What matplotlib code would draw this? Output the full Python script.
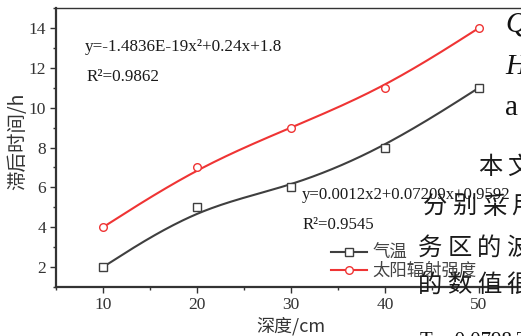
import numpy as np
import matplotlib
matplotlib.use("Agg")
import matplotlib.pyplot as plt
from matplotlib.ticker import MultipleLocator
from matplotlib.lines import Line2D

# ---- data ----
depth = [10, 20, 30, 40, 50]
air_temp = [2, 5, 6, 8, 11]
solar = [4, 7, 9, 11, 14]
series_labels = ["气温", "太阳辐射强度"]
xticks = [10, 20, 30, 40, 50]
yticks = [2, 4, 6, 8, 10, 12, 14]
eq_solar = "y=-1.4836E-19x²+0.24x+1.8"
r2_solar = "R²=0.9862"
eq_temp = "y=0.0012x2+0.07209x+0.9592"
r2_temp = "R²=0.9545"

W, H = 521, 336
SERIF = ["Liberation Serif", "DejaVu Serif"]
CJK = ["Noto Sans CJK SC", "DejaVu Sans"]


def bspline(xs, ys, n=40):
    """Uniform cubic B-spline with tripled end points (passes through ends)."""
    P = np.column_stack([xs, ys]).astype(float)
    P = np.vstack([P[0], P[0], *P, P[-1], P[-1]])
    t = np.linspace(0, 1, n)
    b0 = (1 - t) ** 3 / 6
    b1 = (3 * t**3 - 6 * t**2 + 4) / 6
    b2 = (-3 * t**3 + 3 * t**2 + 3 * t + 1) / 6
    b3 = t**3 / 6
    out = []
    for i in range(len(P) - 3):
        seg = (np.outer(b0, P[i]) + np.outer(b1, P[i + 1]) +
               np.outer(b2, P[i + 2]) + np.outer(b3, P[i + 3]))
        out.append(seg)
    c = np.vstack(out)
    return c[:, 0], c[:, 1]


fig = plt.figure(figsize=(W / 100, H / 100), dpi=100)
fig.patch.set_facecolor("white")

def fx(px):
    return px / W

def fy(py):
    return 1 - py / H

ax = fig.add_axes([fx(56), 49 / H, 470 / W, 279 / H])
ax.set_xlim(5, 55)
ax.set_ylim(1, 15)

gray = "#3f3f3f"
red = "#ef3434"

for ys, col, mk in [(air_temp, gray, "s"), (solar, red, "o")]:
    cx, cy = bspline(depth, ys)
    ax.plot(cx, cy, color=col, lw=1.5, zorder=3)
    ax.plot(depth, ys, ls="none", marker=mk, ms=5.5, mfc="white", mec=col,
            mew=1.0, zorder=4)

ax.set_xticks(xticks)
ax.set_yticks(yticks)
ax.xaxis.set_minor_locator(MultipleLocator(5))
ax.yaxis.set_minor_locator(MultipleLocator(1))
ax.tick_params(which="major", direction="out", length=4, width=1.0,
               colors="#333333", labelsize=12.5, pad=3)
ax.tick_params(which="minor", direction="out", length=2.5, width=1.0,
               colors="#333333")
for lab in ax.get_xticklabels() + ax.get_yticklabels():
    lab.set_fontfamily(SERIF)
for s in ["left", "bottom"]:
    ax.spines[s].set_linewidth(1.6)
    ax.spines[s].set_color("#333333")
ax.spines["top"].set_linewidth(1.0)
ax.spines["top"].set_color("#333333")
ax.spines["right"].set_linewidth(1.0)

# axis labels
fig.text(fx(18), fy(141), "滞后时间/h", rotation=90, ha="center", va="center",
         family=CJK, fontsize=14, color="#333333")
fig.text(fx(291), fy(326), "深度/cm", ha="center", va="center",
         family=CJK, fontsize=13, color="#333333")

# fit annotations
fig.text(fx(85), fy(47), eq_solar, ha="left", va="center", family=SERIF,
         fontsize=12.3, color="#1a1a1a")
fig.text(fx(87), fy(77), r2_solar, ha="left", va="center", family=SERIF,
         fontsize=12.3, color="#1a1a1a")
fig.text(fx(302), fy(195), eq_temp, ha="left", va="center", family=SERIF,
         fontsize=12.1, color="#1a1a1a")
fig.text(fx(303), fy(225), r2_temp, ha="left", va="center", family=SERIF,
         fontsize=12.1, color="#1a1a1a")

# legend
handles = [Line2D([], [], color=gray, lw=1.5, marker="s", ms=5.5, mfc="white", mec=gray),
           Line2D([], [], color=red, lw=1.5, marker="o", ms=5.5, mfc="white", mec=red)]
leg = fig.legend(handles, series_labels, loc="upper left",
                 bbox_to_anchor=(fx(331), fy(244)), frameon=False,
                 prop={"family": CJK, "size": 12.5}, handlelength=2.1,
                 handletextpad=0.3, labelspacing=0.0, borderpad=0,
                 borderaxespad=0)
for t in leg.get_texts():
    t.set_color("#444444")

# surrounding document text visible in the crop
doc_rows = [("本文", 478, 167), ("分别采用", 423, 207), ("务区的波", 418, 248),
            ("的数值很", 418, 285)]
for txt, x0, yc in doc_rows:
    for i, ch in enumerate(txt):
        fig.text(fx(x0 + 29.5 * i), fy(yc), ch, ha="left", va="center",
                 family=CJK, fontsize=17.5, color="#1a1a1a", zorder=10)
for ch, yc, sty in [("Q", 25, "italic"), ("H", 67, "italic"), ("a", 108, "normal")]:
    fig.text(fx(505), fy(yc), ch, ha="left", va="center", family=SERIF,
             fontsize=21, style=sty, color="#111111", zorder=10)
fig.text(fx(420), fy(341), "T = 0.0798 T", ha="left", va="center",
         family=SERIF, fontsize=15, color="#111111", zorder=10)

fig.savefig("out.png", dpi=100, facecolor="white")
